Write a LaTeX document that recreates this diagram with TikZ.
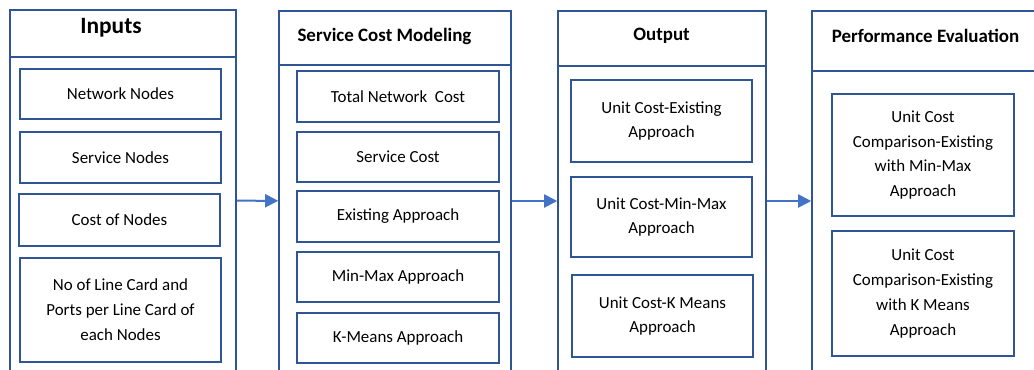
\documentclass[tikz,border=0pt]{standalone}
\usepackage{fontspec}
\setmainfont{Carlito}
\usetikzlibrary{arrows.meta}
\definecolor{box_blue}{RGB}{47,85,151}
\definecolor{arrow_blue}{RGB}{68,114,196}

\begin{document}
\begin{tikzpicture}[x=1bp,y=-1bp]
    \tikzstyle{col}=[draw=box_blue, line width=1.6bp, rectangle, inner sep=0pt, fill=none]
    \tikzstyle{item}=[draw=box_blue, line width=2.2bp, rectangle, inner sep=0pt, align=center, font=\fontsize{17}{25}\selectfont, text=black]
    \tikzstyle{title}=[font=\bfseries\fontsize{19}{23}\selectfont, text=black]
    \tikzstyle{flow}=[-{Triangle[length=13bp,width=13bp]}, draw=arrow_blue, line width=2bp]

    \clip (0,0) rectangle (1034,369);
    \fill[white] (0,0) rectangle (1034,369);

    % columns (open at the bottom, cut by the page)
    \node[col, minimum width=226bp, minimum height=381bp] (c1) at (123,200.5) {};
    \node[col, minimum width=226bp, minimum height=47bp]  (h1) at (123,33.5)  {};
    \node[col, minimum width=232bp, minimum height=380bp] (c2) at (395,201)   {};
    \node[col, minimum width=232bp, minimum height=54bp]  (h2) at (395,38)    {};
    \node[col, minimum width=208bp, minimum height=380bp] (c3) at (662,201)   {};
    \node[col, minimum width=208bp, minimum height=55bp]  (h3) at (662,38.5)  {};
    \node[col, minimum width=248bp, minimum height=380bp] (c4) at (936,201)   {};
    \node[col, minimum width=248bp, minimum height=60bp]  (h4) at (936,41)    {};

    \node[title, font=\bfseries\fontsize{23.5}{28}\selectfont] (t1) at (111,28) {Inputs};
    \node[title] (t2) at (384.5,36) {Service Cost Modeling};
    \node[title] (t3) at (661.5,36) {Output};
    \node[title] (t4) at (925.5,36) {Performance Evaluation};

    % inputs
    \node[item, minimum width=201bp, minimum height=50bp]  (net)  at (120.5,94)  {Network Nodes};
    \node[item, minimum width=201bp, minimum height=51bp]  (svc)  at (120.5,157.5) {Service Nodes};
    \node[item, minimum width=201bp, minimum height=52bp]  (cost) at (119.5,220) {Cost of Nodes};
    \node[item, minimum width=201bp, minimum height=104bp] (card) at (120.5,310) {No of Line Card and\\Ports per Line Card of\\each Nodes};

    % service cost modeling
    \node[item, minimum width=202bp, minimum height=51bp] (total)  at (398,96.5) {Total Network\ \ Cost};
    \node[item, minimum width=202bp, minimum height=50bp] (scost)  at (398,157)  {Service Cost};
    \node[item, minimum width=202bp, minimum height=51bp] (exist)  at (398,216.5) {Existing Approach};
    \node[item, minimum width=202bp, minimum height=50bp] (minmax) at (398,277)  {Min-Max Approach};
    \node[item, minimum width=202bp, minimum height=50bp] (kmeans) at (398,338)  {K-Means Approach};

    % output
    \node[item, minimum width=181bp, minimum height=82bp] (u1) at (661.5,121) {Unit Cost-Existing\\Approach};
    \node[item, minimum width=181bp, minimum height=80bp] (u2) at (661.5,217) {Unit Cost-Min-Max\\Approach};
    \node[item, minimum width=181bp, minimum height=82bp] (u3) at (662.5,316) {Unit Cost-K Means\\Approach};

    % performance evaluation
    \node[item, minimum width=182bp, minimum height=122bp] (p1) at (923,155)   {Unit Cost\\Comparison-Existing\\with Min-Max\\Approach};
    \node[item, minimum width=182bp, minimum height=125bp] (p2) at (923,293.5) {Unit Cost\\Comparison-Existing\\with K Means\\Approach};

    \path
     (c1) edge[flow] (c2)
     (c2) edge[flow] (c3)
     (c3) edge[flow] (c4)
     ;
\end{tikzpicture}
\end{document}
